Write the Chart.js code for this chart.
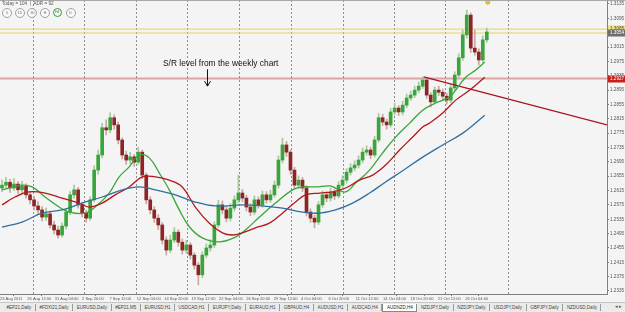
<!DOCTYPE html>
<html>
<head>
<meta charset="utf-8">
<script src="https://cdn.jsdelivr.net/npm/chart.js@4.4.0/dist/chart.umd.min.js"></script>
<style>
html, body { margin: 0; padding: 0; width: 625px; height: 312px; overflow: hidden; background: #f4f4f4; font-family: "Liberation Sans", Arial, sans-serif; }
#wrap { position: relative; width: 625px; height: 312px; }
#chart { position: absolute; left: 0; top: 0; }
#topline { position: absolute; left: 0; top: 0; width: 625px; height: 1px; background: #a8a8a8; }
#info { position: absolute; left: 2px; top: 1px; font-size: 4.6px; color: #555; white-space: nowrap; }
.tf { position: absolute; top: 8px; width: 8px; height: 8px; border: 1px solid #a0a0a0; border-radius: 50%; background: #f8f8f8; font-size: 3.6px; color: #666; text-align: center; line-height: 8px; }
.tf.on { border: 1.5px solid #2aa02a; width: 7px; height: 7px; line-height: 7px; }
#note { position: absolute; left: 163px; top: 58px; font-size: 8.4px; color: #111; white-space: nowrap; }
#tabs { position: absolute; left: 0; top: 302px; width: 625px; height: 10px; background: #ebebeb; border-top: 1px solid #c4c4c4; box-sizing: border-box; display: flex; align-items: center; padding-left: 3px; }
.tab { font-size: 4.5px; color: #444; padding: 0 3.6px; border-right: 1px solid #9a9a9a; line-height: 7px; white-space: nowrap; }
.tab.on { background: #fff; border: 1px solid #888; border-top: none; color: #222; }
#arrows { position: absolute; right: 3px; top: 303px; font-size: 5px; color: #555; background: #ebebeb; }
</style>
</head>
<body>
<div id="wrap">
  <canvas id="chart" width="625" height="302"></canvas>
  <div id="topline"></div>
  <div id="info">Today = 104 &nbsp;| &nbsp;ADR = 92</div>
  <div id="buttons"></div>
  <div id="note">S/R level from the weekly chart</div>
  <div id="tabs"></div>
  <div id="arrows">◂ ▸</div>
</div>
<script>
// H4 candles, AUDNZD, 23 Aug - 27 Oct 2011
const OPEN = [1.2622,1.2630,1.2638,1.2622,1.2633,1.2617,1.2627,1.2603,1.2589,1.2572,
  1.2561,1.2541,1.2550,1.2519,1.2505,1.2491,1.2516,1.2555,1.2603,1.2617,
  1.2575,1.2552,1.2538,1.2589,1.2672,1.2714,1.2790,1.2784,1.2818,1.2798,
  1.2756,1.2714,1.2700,1.2709,1.2694,1.2722,1.2658,1.2589,1.2561,1.2538,
  1.2519,1.2477,1.2449,1.2477,1.2499,1.2471,1.2449,1.2463,1.2435,1.2407,
  1.2380,1.2435,1.2455,1.2463,1.2519,1.2575,1.2561,1.2538,1.2566,1.2589,
  1.2608,1.2594,1.2569,1.2555,1.2589,1.2575,1.2603,1.2589,1.2603,1.2630,
  1.2700,1.2742,1.2722,1.2672,1.2630,1.2644,1.2622,1.2555,1.2538,1.2527,
  1.2575,1.2603,1.2594,1.2611,1.2600,1.2630,1.2644,1.2666,1.2678,1.2686,
  1.2700,1.2722,1.2728,1.2714,1.2756,1.2818,1.2806,1.2798,1.2834,1.2845,
  1.2834,1.2853,1.2873,1.2881,1.2895,1.2906,1.2923,1.2881,1.2862,1.2895,
  1.2889,1.2878,1.2867,1.2901,1.2937,1.2985,1.3049,1.3104,1.3012,1.3001,
  1.2979,1.3035];
const HIGH = [1.2645,1.2652,1.2646,1.2648,1.2640,1.2641,1.2634,1.2612,1.2598,1.2584,
  1.2570,1.2566,1.2558,1.2530,1.2516,1.2525,1.2563,1.2612,1.2630,1.2624,
  1.2583,1.2560,1.2598,1.2684,1.2728,1.2802,1.2812,1.2832,1.2826,1.2806,
  1.2762,1.2725,1.2722,1.2716,1.2736,1.2728,1.2664,1.2598,1.2570,1.2548,
  1.2526,1.2486,1.2490,1.2512,1.2506,1.2480,1.2476,1.2470,1.2442,1.2414,
  1.2444,1.2466,1.2478,1.2528,1.2588,1.2586,1.2570,1.2578,1.2600,1.2658,
  1.2618,1.2602,1.2578,1.2600,1.2597,1.2614,1.2612,1.2616,1.2642,1.2712,
  1.2761,1.2752,1.2728,1.2680,1.2656,1.2652,1.2628,1.2564,1.2546,1.2584,
  1.2614,1.2612,1.2622,1.2618,1.2640,1.2656,1.2676,1.2690,1.2698,1.2712,
  1.2734,1.2740,1.2736,1.2766,1.2830,1.2828,1.2814,1.2844,1.2858,1.2852,
  1.2864,1.2884,1.2892,1.2906,1.2918,1.2932,1.2928,1.2888,1.2904,1.2906,
  1.2898,1.2886,1.2910,1.2946,1.2996,1.3062,1.3118,1.3110,1.3062,1.3010,
  1.3046,1.3068];
const LOW = [1.2612,1.2621,1.2610,1.2615,1.2606,1.2609,1.2594,1.2578,1.2561,1.2548,
  1.2530,1.2532,1.2510,1.2494,1.2482,1.2485,1.2508,1.2548,1.2594,1.2566,
  1.2541,1.2527,1.2532,1.2583,1.2660,1.2706,1.2770,1.2776,1.2786,1.2745,
  1.2703,1.2688,1.2690,1.2682,1.2688,1.2648,1.2578,1.2550,1.2526,1.2506,
  1.2466,1.2435,1.2442,1.2470,1.2460,1.2438,1.2440,1.2424,1.2396,1.2352,
  1.2372,1.2428,1.2446,1.2456,1.2512,1.2550,1.2528,1.2530,1.2558,1.2580,
  1.2584,1.2558,1.2545,1.2548,1.2566,1.2568,1.2580,1.2582,1.2596,1.2622,
  1.2692,1.2710,1.2660,1.2620,1.2622,1.2612,1.2544,1.2526,1.2511,1.2520,
  1.2568,1.2584,1.2586,1.2590,1.2594,1.2622,1.2636,1.2658,1.2670,1.2678,
  1.2692,1.2714,1.2704,1.2708,1.2750,1.2796,1.2786,1.2792,1.2826,1.2824,
  1.2826,1.2846,1.2866,1.2874,1.2888,1.2900,1.2872,1.2848,1.2856,1.2880,
  1.2868,1.2856,1.2860,1.2894,1.2930,1.2978,1.3040,1.3000,1.2992,1.2965,
  1.2972,1.3028];
const CLOSE = [1.2630,1.2638,1.2622,1.2633,1.2617,1.2627,1.2603,1.2589,1.2572,1.2561,
  1.2541,1.2550,1.2519,1.2505,1.2491,1.2516,1.2555,1.2603,1.2617,1.2575,
  1.2552,1.2538,1.2589,1.2672,1.2714,1.2790,1.2784,1.2818,1.2798,1.2756,
  1.2714,1.2700,1.2709,1.2694,1.2722,1.2658,1.2589,1.2561,1.2538,1.2519,
  1.2477,1.2449,1.2477,1.2499,1.2471,1.2449,1.2463,1.2435,1.2407,1.2380,
  1.2435,1.2455,1.2463,1.2519,1.2575,1.2561,1.2538,1.2566,1.2589,1.2608,
  1.2594,1.2569,1.2555,1.2589,1.2575,1.2603,1.2589,1.2603,1.2630,1.2700,
  1.2742,1.2722,1.2672,1.2630,1.2644,1.2622,1.2555,1.2538,1.2527,1.2575,
  1.2603,1.2594,1.2611,1.2600,1.2630,1.2644,1.2666,1.2678,1.2686,1.2700,
  1.2722,1.2728,1.2714,1.2756,1.2818,1.2806,1.2798,1.2834,1.2845,1.2834,
  1.2853,1.2873,1.2881,1.2895,1.2906,1.2923,1.2881,1.2862,1.2895,1.2889,
  1.2878,1.2867,1.2901,1.2937,1.2985,1.3049,1.3104,1.3012,1.3001,1.2979,
  1.3035,1.3057];

// moving averages (bar index, price)
const MA_FAST_X = [0,5,7.5,10.75,14.25,16.75,20.75,23.25,26.75,29.25,31.75,34.25,36.75,39.25,41.75,44.25,46.75,50,54.25,58.25,60.75,64.25,68.25,72.5,75,78.25,81.75,83.25,85.75,88.25,91.75,95,98.25,101.75,105,108.25,111.75,113.25,115.75,118.25,120.5];
const MA_FAST_Y = [1.2617,1.2630,1.2625,1.2597,1.2569,1.2555,1.2552,1.2569,1.2608,1.2653,1.2681,1.2714,1.2706,1.2664,1.2617,1.2561,1.2514,1.2483,1.2472,1.2485,1.2505,1.2541,1.2580,1.2617,1.2625,1.2625,1.2628,1.2622,1.2611,1.2636,1.2672,1.2720,1.2764,1.2803,1.2839,1.2859,1.2876,1.2895,1.2931,1.2951,1.2973];
const MA_MID_X = [0,3.25,6.75,10.75,15,19.25,21.75,25,28.25,31.75,35,38.25,41.75,45,48.25,51.75,55,57.5,60,63.25,66.75,70,73.25,75.75,79.25,82.5,85.75,89.25,92.5,95.75,99.25,102.5,105,106.75,110,113.25,116.75,120.5];
const MA_MID_Y = [1.2575,1.2597,1.2611,1.2608,1.2594,1.2580,1.2569,1.2580,1.2603,1.2625,1.2653,1.2653,1.2644,1.2625,1.2569,1.2524,1.2497,1.2491,1.2497,1.2511,1.2524,1.2552,1.2583,1.2603,1.2608,1.2611,1.2622,1.2644,1.2658,1.2686,1.2728,1.2764,1.2792,1.2803,1.2831,1.2867,1.2895,1.2931];
const MA_SLOW_X = [0,5,10,15,20,25,30,34.25,38.25,43.25,48.25,53.25,60,65,70,75,79.25,83.25,87.5,91.75,95.75,100,105,110,115,120.5];
const MA_SLOW_Y = [1.2513,1.2527,1.2552,1.2561,1.2580,1.2597,1.2617,1.2625,1.2617,1.2603,1.2583,1.2572,1.2575,1.2572,1.2566,1.2555,1.2552,1.2561,1.2580,1.2608,1.2639,1.2670,1.2708,1.2742,1.2775,1.2825];

// drawn objects
const TREND_X = [105.25, 151];
const TREND_Y = [1.2932, 1.2798];
const SR_LEVEL = 1.2927;
const YELLOW_LEVELS = [1.3065, 1.3054];
const BID = 1.3054;
const MARK_X = [121.25];
const MARK_Y = [1.3140];

const PRICE_TICKS = [1.2335,1.2375,1.2415,1.2455,1.2495,1.2535,1.2575,1.2615,1.2655,1.2695,1.2735,1.2775,1.2815,1.2855,1.2895,1.2935,1.2975,1.3015,1.3055,1.3095,1.3135];
const DATE_LABELS = ['23 Aug 2011','26 Aug 12:00','31 Aug 04:00','2 Sep 20:00','7 Sep 12:00','12 Sep 04:00','14 Sep 20:00','19 Sep 12:00','22 Sep 04:00','26 Sep 20:00','29 Sep 12:00','4 Oct 04:00','6 Oct 20:00','11 Oct 12:00','14 Oct 04:00','18 Oct 20:00','21 Oct 12:00','26 Oct 04:00'];
const TABS = ['#EP21,Daily','#FDXI21,Daily','EURUSD,Daily','#EP21,M5','EURUSD,H1','USDCAD,H1','EURJPY,Daily','EURAUD,H1','GBPAUD,H4','AUDUSD,H1','AUDCAD,H4','AUDNZD,H4','NZDJPY,Daily','NZDJPY,Daily','USDJPY,Daily','GBPJPY,Daily','NZDUSD,Daily'];
const ACTIVE_TAB = 'AUDNZD,H4';
const TIMEFRAMES = ['5','15','30','H','H4','D'];
const ACTIVE_TF = 'H4';

// layout
const X_MIN = -0.5, X_MAX = 151;
const Y_MIN = 1.23266, Y_MAX = 1.31461;
const LABEL_STEP = 6.83;
const GRID_AT = [7.75, 20.5, 33.5, 46.25, 59.25, 72.25, 85, 97.75, 110.5, 126.25];

const UP = '#3aa53a', DOWN = '#8e2424';
const WICK_UP = '#a9c79e', WICK_DOWN = '#c4a8a2';

// tabs + buttons
const tabsEl = document.getElementById('tabs');
TABS.forEach(t => {
    const s = document.createElement('span');
    s.className = 'tab' + (t === ACTIVE_TAB ? ' on' : '');
    s.textContent = t;
    tabsEl.appendChild(s);
});
const btnEl = document.getElementById('buttons');
TIMEFRAMES.forEach((t, i) => {
    const d = document.createElement('div');
    d.className = 'tf' + (t === ACTIVE_TF ? ' on' : '');
    d.style.left = (2 + i * 12.7) + 'px';
    d.textContent = t;
    btnEl.appendChild(d);
});

const isUp = i => CLOSE[i] >= OPEN[i];

const mtPlugin = {
    id: 'mt',
    beforeDraw(chart) {
        const { ctx } = chart;
        ctx.save();
        ctx.fillStyle = '#f4f4f4';
        ctx.fillRect(0, 0, chart.width, chart.height);
        ctx.restore();
    },
    beforeDatasetsDraw(chart) {
        const { ctx, chartArea: a, scales: { x } } = chart;
        ctx.save();
        ctx.strokeStyle = '#8c8c8c';
        ctx.lineWidth = 1;
        ctx.setLineDash([2, 2]);
        GRID_AT.forEach(v => {
            const px = Math.round(x.getPixelForValue(v)) + 0.5;
            ctx.beginPath();
            ctx.moveTo(px, a.top);
            ctx.lineTo(px, a.bottom);
            ctx.stroke();
        });
        ctx.restore();
    },
    afterDatasetsDraw(chart) {
        // arrow under the note
        const { ctx, scales: { x, y } } = chart;
        const ax = Math.round(x.getPixelForValue(51.25)) + 0.5;
        const y0 = y.getPixelForValue(1.2953), y1 = y.getPixelForValue(1.2906);
        ctx.save();
        ctx.strokeStyle = '#111';
        ctx.lineWidth = 1;
        ctx.beginPath();
        ctx.moveTo(ax, y0);
        ctx.lineTo(ax, y1);
        ctx.moveTo(ax - 3, y1 - 5);
        ctx.lineTo(ax, y1);
        ctx.lineTo(ax + 3, y1 - 5);
        ctx.stroke();
        ctx.restore();
    },
    afterDraw(chart) {
        const { ctx, chartArea: a, scales: { y } } = chart;
        const box = (v, text, bg, fg) => {
            const py = Math.round(y.getPixelForValue(v));
            ctx.fillStyle = bg;
            ctx.fillRect(a.right + 1, py - 3.5, chart.width - a.right - 1, 7);
            ctx.fillStyle = fg;
            ctx.font = '4.6px "Liberation Sans"';
            ctx.textBaseline = 'middle';
            ctx.textAlign = 'left';
            ctx.fillText(text, a.right + 3, py);
        };
        ctx.save();
        box(YELLOW_LEVELS[0], YELLOW_LEVELS[0].toFixed(4), '#f2e27a', '#444');
        box(BID, BID.toFixed(4), '#6e6e6e', '#fff');
        box(SR_LEVEL, SR_LEVEL.toFixed(4), '#c8201e', '#fff');
        ctx.restore();
    }
};

const pts = (xs, ys) => xs.map((v, i) => ({ x: v, y: ys[i] }));
const maLine = (xs, ys, color) => ({
    type: 'line', data: pts(xs, ys), borderColor: color, borderWidth: 1.3,
    pointRadius: 0, pointHoverRadius: 0, tension: 0.4, order: 0
});
const hLine = (v, color, w, order) => ({
    type: 'line', data: [{ x: X_MIN, y: v }, { x: X_MAX, y: v }],
    borderColor: color, borderWidth: w, pointRadius: 0, pointHoverRadius: 0, order
});

new Chart(document.getElementById('chart'), {
    type: 'bar',
    data: {
        datasets: [
            hLine(YELLOW_LEVELS[0], '#e6d45a', 1, 5),
            hLine(YELLOW_LEVELS[1], '#e6d45a', 1, 5),
            hLine(SR_LEVEL, 'rgba(208,110,110,0.6)', 2, 5),
            {
                // wicks
                type: 'bar', order: 3, grouped: false,
                data: CLOSE.map((c, i) => ({ x: i, y: [LOW[i], HIGH[i]] })),
                backgroundColor: CLOSE.map((c, i) => isUp(i) ? WICK_UP : WICK_DOWN),
                barThickness: 1
            },
            {
                // bodies
                type: 'bar', order: 2, grouped: false,
                data: CLOSE.map((c, i) => ({ x: i, y: [OPEN[i], c === OPEN[i] ? c + 0.00005 : c] })),
                backgroundColor: CLOSE.map((c, i) => isUp(i) ? UP : DOWN),
                barThickness: 3
            },
            maLine(MA_SLOW_X, MA_SLOW_Y, '#2f6f9f'),
            maLine(MA_MID_X, MA_MID_Y, '#b3191b'),
            maLine(MA_FAST_X, MA_FAST_Y, '#38a638'),
            {
                type: 'line', data: pts(TREND_X, TREND_Y), borderColor: '#a8141c',
                borderWidth: 1.4, pointRadius: 0, pointHoverRadius: 0, order: 0
            },
            {
                type: 'scatter', data: pts(MARK_X, MARK_Y), pointRadius: 2, pointHoverRadius: 2,
                backgroundColor: '#f2c531', borderColor: '#e0a820', order: 0
            }
        ]
    },
    options: {
        responsive: false,
        devicePixelRatio: 1,
        animation: false,
        events: [],
        layout: { padding: 0, autoPadding: false },
        plugins: { legend: { display: false }, tooltip: { enabled: false } },
        scales: {
            x: {
                type: 'linear', min: X_MIN, max: X_MAX, offset: false,
                grid: { display: true, drawOnChartArea: false, tickLength: 2, color: '#808080' },
                border: { display: true, color: '#808080' },
                ticks: {
                    autoSkip: false, maxRotation: 0, align: 'start', padding: 0,
                    font: { family: 'Liberation Sans', size: 4 }, color: '#555',
                    callback: (v, i) => DATE_LABELS[i]
                },
                afterBuildTicks: s => { s.ticks = DATE_LABELS.map((_, k) => ({ value: X_MIN + k * LABEL_STEP })); },
                afterFit: s => { s.height = 8; s.paddingLeft = 0; s.paddingRight = 0; }
            },
            y: {
                position: 'right', min: Y_MIN, max: Y_MAX,
                grid: { display: true, drawOnChartArea: false, tickLength: 2, color: '#808080' },
                border: { display: true, color: '#808080' },
                ticks: {
                    padding: 1, font: { family: 'Liberation Sans', size: 4.6 }, color: '#555',
                    callback: v => v.toFixed(4)
                },
                afterBuildTicks: s => { s.ticks = PRICE_TICKS.map(v => ({ value: v })); },
                afterFit: s => { s.width = 18; s.paddingTop = 0; s.paddingBottom = 0; }
            }
        }
    },
    plugins: [mtPlugin]
});
</script>
</body>
</html>
